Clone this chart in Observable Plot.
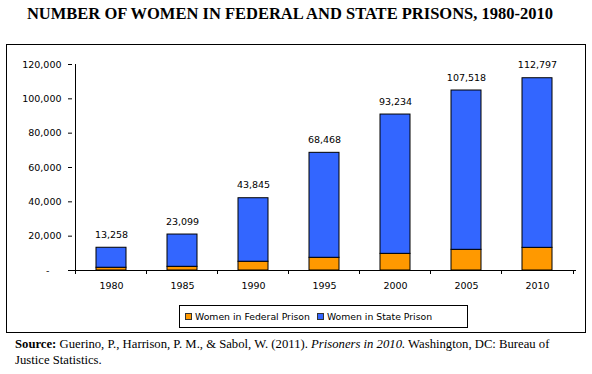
<!DOCTYPE html>
<html><head><meta charset="utf-8">
<script src="https://cdn.jsdelivr.net/npm/d3@7"></script>
<script src="https://cdn.jsdelivr.net/npm/@observablehq/plot@0.6"></script>
<style>
body{margin:0;background:#fff;width:592px;height:374px;position:relative;overflow:hidden}
#title{position:absolute;left:0;width:580px;text-align:center;top:6px;font-family:"Liberation Serif";font-weight:bold;font-size:16.5px;line-height:16px;color:#000;white-space:nowrap}
#box{position:absolute;left:6px;top:44px;width:580px;height:289px;border:1px solid #000;box-sizing:border-box}
#chart{position:absolute;left:0;top:44px}
#legend{position:absolute;left:179px;top:305px;width:289px;height:23px;border:1px solid #000;box-sizing:border-box;font-family:"DejaVu Sans";font-size:9.3px;display:flex;align-items:center;padding-left:5px;white-space:nowrap;background:#fff}
.sw{display:inline-block;width:7px;height:7px;border:1px solid #333;box-sizing:border-box;margin-right:3px}
.item{display:flex;align-items:center;margin-right:7px}
#source{position:absolute;left:15px;top:336px;font-family:"Liberation Serif";font-size:12.7px;line-height:16px;color:#000}
</style>
</head><body>
<div id="title"></div>
<div id="box"></div>
<div id="chart"></div>
<div id="legend"></div>
<div id="source"><b>Source:</b> Guerino, P., Harrison, P. M., &amp; Sabol, W. (2011). <i>Prisoners in 2010.</i> Washington, DC: Bureau of<br>Justice Statistics.</div>
<script>
const titleText = "NUMBER OF WOMEN IN FEDERAL AND STATE PRISONS, 1980-2010";
const years = ["1980","1985","1990","1995","2000","2005","2010"];
const federal = [1600, 2150, 5100, 7400, 9700, 12050, 13200];
const state = [11650, 18800, 37000, 61150, 81150, 92800, 98800];
const totalLabels = ["13,258","23,099","43,845","68,468","93,234","107,518","112,797"];
const seriesNames = ["Women in Federal Prison","Women in State Prison"];
const seriesColors = ["#FF9900","#3366FF"];
const yTicks = [0,20000,40000,60000,80000,100000,120000];
const yTickLabels = ["-","20,000","40,000","60,000","80,000","100,000","120,000"];

document.getElementById("title").textContent = titleText;

const rows = [];
years.forEach((y,i)=>{
  rows.push({year:y, series:seriesNames[0], value:federal[i]});
  rows.push({year:y, series:seriesNames[1], value:state[i]});
});
const tops = years.map((y,i)=>({year:y, total:federal[i]+state[i], label:totalLabels[i]}));

const plot = Plot.plot({
  width:592, height:256, marginLeft:72, marginRight:16, marginTop:20, marginBottom:30,
  style:{fontFamily:"DejaVu Sans", fontSize:"9.5px", color:"#000", background:"transparent", overflow:"visible"},
  x:{type:"band", domain:years, paddingInner:0.583, paddingOuter:0.2917, label:null},
  y:{domain:[0,120000], label:null},
  color:{domain:seriesNames, range:seriesColors},
  marks:[
    Plot.barY(rows, {x:"year", y:"value", fill:"series", stroke:"#000", strokeWidth:1}),
    Plot.ruleY([0], {stroke:"#000"}),
    Plot.ruleX(years, {x:d=>d, y1:d=>0, y2:d=>0, dx:-36, insetBottom:-4, stroke:"#000"}),
    Plot.ruleX(years.slice(-1), {x:d=>d, y1:d=>0, y2:d=>0, dx:36, insetBottom:-4, stroke:"#000"}),
    Plot.ruleX(years.slice(0,1), {x:d=>d, y1:d=>0, y2:d=>120000, dx:-36, stroke:"#000"}),
    Plot.axisY({ticks:yTicks, tickSize:4, tickPadding:7, tickFormat:d=>{const s=yTickLabels[yTicks.indexOf(d)]; return d===0 ? s+"\u2007\u2007" : s;}, label:null}),
    Plot.axisX({tickSize:0, tickPadding:12, label:null}),
    Plot.text(tops, {x:"year", y:"total", text:"label", dy:-13, fill:"#000"})
  ]
});
document.getElementById("chart").appendChild(plot);

const lg = document.getElementById("legend");
seriesNames.forEach((n,i)=>{
  const it = document.createElement("span"); it.className="item";
  const sw = document.createElement("span"); sw.className="sw"; sw.style.background=seriesColors[i];
  const tx = document.createElement("span"); tx.textContent=n;
  it.appendChild(sw); it.appendChild(tx); lg.appendChild(it);
});
</script>
</body></html>
